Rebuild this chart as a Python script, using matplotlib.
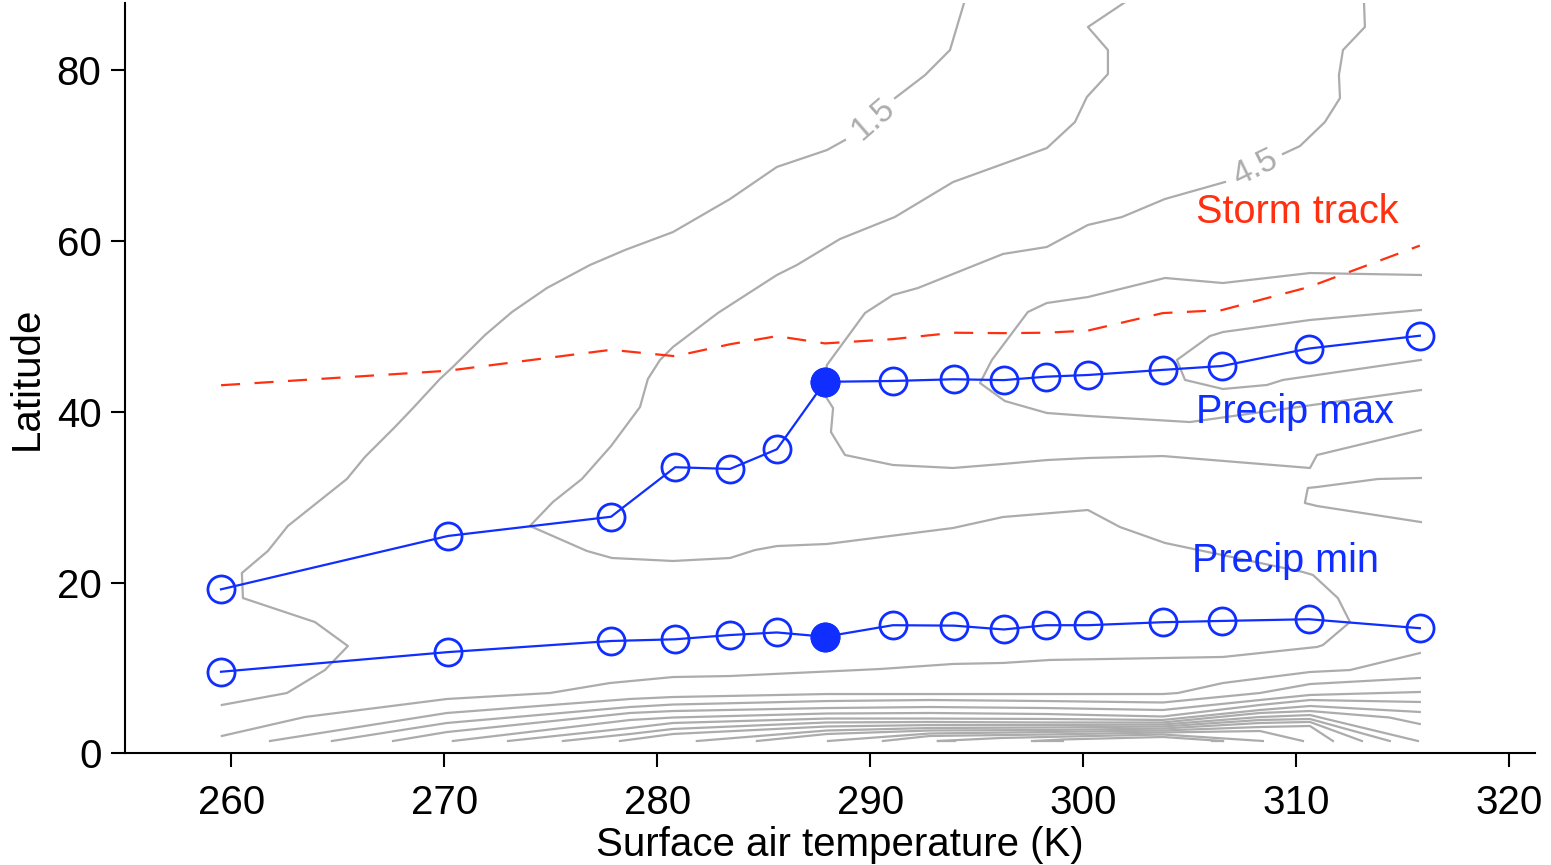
import numpy as np
import matplotlib
matplotlib.use('Agg')
import matplotlib.pyplot as plt

plt.rcParams['font.family'] = ['Liberation Sans', 'DejaVu Sans']

# ---------------- data ----------------
temps = [259.51, 270.17, 277.83, 280.84, 283.42, 285.62, 287.88, 291.07,
         293.94, 296.28, 298.26, 300.23, 303.75, 306.52, 310.61, 315.82]
precip_max_lat = [19.2, 25.45, 27.7, 33.5, 33.3, 35.6, 43.5, 43.6,
                  43.8, 43.7, 44.1, 44.3, 44.9, 45.35, 47.4, 48.9]
precip_min_lat = [9.55, 11.85, 13.15, 13.35, 13.85, 14.15, 13.65, 15.0,
                  14.95, 14.5, 15.0, 15.0, 15.35, 15.5, 15.7, 14.65]
storm_track_lat = [43.1, 44.8, 47.25, 46.5, 47.9, 48.85, 48.0, 48.5,
                   49.25, 49.2, 49.25, 49.5, 51.55, 51.9, 54.6, 59.45]
reference_index = 6   # filled marker

NA = (np.nan, np.nan)
# contour lines of precipitation (T [K], latitude)
contour_1p5 = [(259.55, 5.66), (262.61, 7.06), (264.39, 9.75), (265.47, 12.56),
               (263.92, 15.37), (260.54, 18.18), (260.49, 21.11), (261.71, 23.69),
               (262.65, 26.62), (265.42, 32.12), (266.27, 34.70), (267.68, 38.21),
               (268.53, 40.43), (269.79, 43.83), (270.40, 45.24), (271.91, 48.98),
               (273.18, 51.68), (274.82, 54.49), (276.84, 57.18), (278.49, 58.94),
               (280.74, 61.04), (283.42, 64.91), (285.62, 68.66), (287.97, 70.64),
               (288.82, 71.81), NA, (291.17, 76.73), (292.58, 79.42), (293.75, 82.35),
               (294.50, 88.60)]
contour_3p0 = [(302.30, 88.5), (300.23, 85.05), (301.17, 82.35), (301.17, 79.54),
               (300.18, 76.85), (299.62, 73.92), (298.30, 70.87), (293.89, 66.89),
               (291.16, 62.80), (288.58, 60.22), (286.56, 57.18), (285.62, 56.01),
               (282.85, 51.56), (280.74, 47.58), (280.13, 46.06), (279.56, 43.83),
               (279.19, 40.55), (277.83, 35.98), (276.46, 32.12), (275.10, 29.43),
               (274.02, 26.62), (276.70, 23.69), (277.87, 22.87), (280.74, 22.52),
               (283.42, 22.87), (284.59, 23.80), (285.62, 24.27), (287.97, 24.51),
               (293.89, 26.38), (296.24, 27.67), (300.23, 28.49), (301.73, 26.50),
               (303.85, 24.63), (310.33, 21.23), (310.80, 20.88), (311.97, 18.18),
               (312.54, 15.37), (311.27, 12.68), (310.99, 12.45), (306.57, 11.28),
               (298.45, 10.93), (296.24, 10.58), (293.89, 10.46), (290.46, 9.87),
               (283.42, 9.05), (280.74, 8.93), (277.78, 8.23), (274.96, 7.06),
               (270.12, 6.36), (263.45, 4.25), (259.55, 2.03)]
contour_4p5 = [(315.87, 37.86), (310.99, 34.93), (310.66, 33.41), (303.75, 34.81),
               (300.23, 34.58), (298.30, 34.34), (296.24, 33.88), (293.89, 33.41),
               (291.07, 33.76), (288.82, 34.93), (288.16, 37.62), (288.26, 40.43),
               (287.93, 41.72), (287.88, 43.60), (287.97, 45.47), (289.76, 51.56),
               (291.07, 53.67), (292.25, 54.49), (296.24, 58.47), (298.30, 59.29),
               (300.23, 61.87), (301.83, 62.80), (303.85, 64.91), (306.67, 66.90),
               NA, (309.39, 70.18), (310.19, 71.11), (311.36, 73.92), (312.07, 76.73),
               (312.02, 79.42), (312.21, 82.35), (313.24, 85.05), (313.19, 88.5)]
contour_6p0 = [(315.87, 56.01), (310.66, 56.24), (306.57, 55.07), (303.85, 55.66),
               (300.23, 53.43), (298.30, 52.73), (297.41, 51.68), (295.72, 46.06),
               (295.16, 43.36), (296.33, 41.25), (298.30, 39.85), (300.23, 39.50),
               (305.02, 38.79), (310.61, 40.73), (315.87, 42.54)]
contour_7p5 = [(315.87, 51.91), (310.66, 50.74), (306.57, 49.33), (305.96, 48.86),
               (304.41, 46.06), (304.79, 43.72), (306.57, 42.66), (308.64, 43.13),
               (309.39, 43.72), (315.87, 46.06)]
contour_tongue = [(315.87, 32.24), (313.85, 32.12), (310.99, 31.18), (310.56, 31.07),
                  (310.42, 29.31), (310.99, 28.96), (315.87, 27.08)]
# tropical bundle
trop_b = [(261.81, 1.44), (270.12, 4.72), (278.72, 6.36), (280.74, 6.59), (287.97, 6.94),
          (292.81, 6.94), (303.75, 6.94), (304.46, 7.06), (306.57, 8.23), (310.66, 9.52),
          (312.54, 9.75), (315.82, 11.74)]
trop_c = [(264.72, 1.44), (270.12, 3.55), (278.72, 5.42), (280.74, 5.71), (287.97, 6.12),
          (292.81, 6.24), (298.26, 6.12), (303.75, 5.95), (308.31, 7.06), (310.66, 8.11),
          (315.82, 8.82)]
trop_d = [(267.59, 1.44), (270.12, 2.49), (278.72, 4.72), (280.74, 4.95), (287.97, 5.30),
          (292.81, 5.42), (298.26, 5.30), (303.75, 5.07), (308.31, 6.24), (310.66, 6.83),
          (315.82, 7.18)]
trop_e = [(270.40, 1.44), (278.72, 3.90), (280.74, 4.19), (287.97, 4.66), (292.81, 4.72),
          (298.26, 4.60), (303.75, 4.31), (308.31, 5.66), (310.66, 6.24), (315.82, 6.01)]
trop_f = [(272.99, 1.44), (278.72, 2.96), (280.74, 3.55), (287.97, 4.07), (292.81, 4.07),
          (298.26, 4.02), (303.75, 3.90), (308.31, 5.07), (310.66, 5.54), (315.82, 4.84)]
trop_g = [(275.57, 1.44), (278.72, 2.26), (280.74, 2.85), (287.97, 3.61), (292.81, 3.67),
          (298.26, 3.61), (303.75, 3.61), (308.31, 4.72), (310.66, 4.95), (314.40, 4.19),
          (315.82, 3.43)]
trop_h = [(278.25, 1.44), (280.74, 2.26), (287.97, 3.14), (292.81, 3.31), (298.26, 3.31),
          (303.75, 3.37), (308.31, 4.25), (310.66, 4.48), (315.73, 1.44)]
trop_i = [(281.86, 1.44), (287.97, 2.67), (292.81, 2.96), (298.26, 3.02), (303.75, 3.14),
          (308.31, 3.90), (310.66, 4.02), (314.41, 1.44)]
trop_j = [(284.68, 1.44), (287.97, 2.26), (292.81, 2.67), (298.26, 2.73), (303.75, 2.90),
          (308.31, 3.55), (310.66, 3.67), (313.10, 1.44)]
trop_k = [(288.02, 1.44), (292.81, 2.32), (298.26, 2.49), (303.75, 2.67), (308.31, 3.08),
          (310.66, 3.20), (311.74, 1.44)]
trop_l = [(290.60, 1.44), (292.81, 2.03), (298.26, 2.20), (303.75, 2.44), (308.31, 2.61),
          (310.33, 1.44)]
trop_m = [(293.18, 1.44), (296.10, 1.79), (298.26, 1.91), (303.75, 2.20), (308.45, 1.44)]
trop_n = [(297.74, 1.44), (299.06, 1.62), (303.75, 1.91), (306.57, 1.44)]
trop_bits = [(293.18, 1.44), (293.98, 1.44), NA, (297.60, 1.44), (299.06, 1.44), NA,
             (306.05, 1.44), (306.57, 1.44)]

contour_labels = ['1.5', '4.5']
contour_label_pos = [(290.13, 74.24), (308.08, 68.54)]
contour_label_rot = [41, 26]

xticks = [260, 270, 280, 290, 300, 310, 320]
yticks = [0, 20, 40, 60, 80]

# ---------------- style ----------------
BLUE = '#0f2eff'
RED = '#ff3010'
GRAY = '#acacac'

fig = plt.figure(figsize=(15.51, 8.65), dpi=100)
ax = fig.add_axes([125 / 1551, 1 - 753.3 / 865, 1410 / 1551, 750.3 / 865])
ax.set_xlim(255.0, 321.23)
ax.set_ylim(0, 87.86)

all_contours = [contour_1p5, contour_3p0, contour_4p5, contour_6p0, contour_7p5,
                contour_tongue, trop_b, trop_c, trop_d, trop_e, trop_f, trop_g,
                trop_h, trop_i, trop_j, trop_k, trop_l, trop_m, trop_n, trop_bits]
for line in all_contours:
    arr = np.array(line, dtype=float)
    ax.plot(arr[:, 0], arr[:, 1], color=GRAY, lw=1.6, zorder=1)

for txt, (x, y), rot in zip(contour_labels, contour_label_pos, contour_label_rot):
    ax.text(x, y, txt, color=GRAY, fontsize=24, rotation=rot, ha='center',
            va='center', rotation_mode='anchor', zorder=2)

ax.plot(temps, storm_track_lat, color=RED, lw=1.6, dashes=(8.6, 6.5), zorder=2)

for lat in (precip_max_lat, precip_min_lat):
    ax.plot(temps, lat, color=BLUE, lw=1.6, marker='o', ms=19.5, mfc='none',
            mec=BLUE, mew=2.0, zorder=3)
    ax.plot([temps[reference_index]], [lat[reference_index]], marker='o', ms=19.5,
            mfc=BLUE, mec=BLUE, mew=2.0, ls='none', zorder=4)

ax.text(305.30, 62.07, 'Storm track', color=RED, fontsize=28.5, ha='left', va='baseline', zorder=5)
ax.text(305.33, 38.71, 'Precip max', color=BLUE, fontsize=28.5, ha='left', va='baseline', zorder=5)
ax.text(305.10, 21.19, 'Precip min', color=BLUE, fontsize=28.5, ha='left', va='baseline', zorder=5)

ax.set_xticks(xticks)
ax.set_yticks(yticks)
ax.tick_params(direction='out', length=10, width=1.5, labelsize=29, color='black')
ax.tick_params(axis='x', pad=12)
ax.tick_params(axis='y', pad=7)
for s in ('top', 'right'):
    ax.spines[s].set_visible(False)
for s in ('left', 'bottom'):
    ax.spines[s].set_linewidth(1.5)

ax.set_xlabel('Surface air temperature (K)', fontsize=29)
ax.set_ylabel('Latitude', fontsize=29)
ax.xaxis.set_label_coords(0.5067, -0.0969)
ax.yaxis.set_label_coords(-0.0564, 0.5)

fig.savefig('out.png', dpi=100)
